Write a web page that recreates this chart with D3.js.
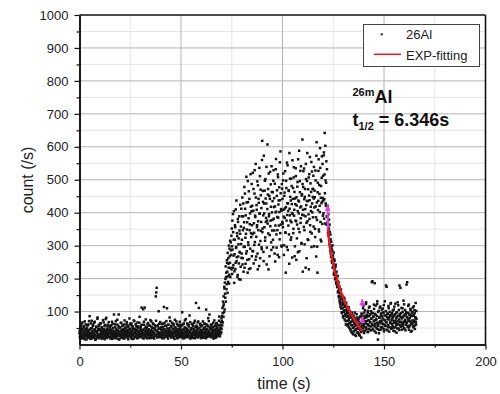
<!DOCTYPE html>
<html>
<head>
<meta charset="utf-8">
<script src="https://cdn.jsdelivr.net/npm/d3@7"></script>
<style>
  body { margin: 0; background: #fff; }
  svg { font-family: Arial, "Liberation Sans", sans-serif; }
</style>
</head>
<body>
<div id="chart"></div>
<script>
// counts are in 0.1 s bins; "even" arrays hold t = 0.0, 0.2, ... and "odd" arrays t = 0.1, 0.3, ...
const step = 0.2;

// t = 0 .. 69.9 s, background before beam
const countsBase = [
  34,22,51,18,40,63,27,45,31,19,56,38,24,70,29,47,33,15,58,42,26,36,61,21,44,
  86,30,17,49,35,72,25,41,57,20,33,66,28,46,14,39,54,23,37,78,31,48,19,60,27,
  43,26,65,35,18,52,29,40,74,22,47,31,16,59,36,25,81,42,20,55,33,28,68,45,24,
  38,57,21,44,30,69,17,50,34,27,91,40,23,62,36,19,48,31,75,26,43,55,29,15,39,
  52,24,37,66,20,45,32,58,27,41,18,73,35,49,22,30,61,38,25,54,16,43,34,79,28,
  47,33,20,64,39,26,55,30,17,48,71,36,23,42,58,29,45,19,67,34,51,25,38,84,31,
  22,56,40,112,27,44,35,107,18,60,32,49,24,76,37,21,53,41,28,65,33,46,19,57,36,
  26,43,70,30,50,21,39,62,34,18,47,28,55,146,158,172,41,24,59,37,101,31,48,22,68,
  35,52,27,44,19,63,38,29,114,46,23,57,33,41,71,25,49,36,18,60,30,45,82,28,39,
  54,21,37,66,31,47,24,58,40,17,75,35,50,27,43,62,29,38,20,56,33,48,69,26,42,
  31,59,23,98,36,45,28,64,19,52,39,30,77,25,47,34,61,22,41,55,27,88,37,18,50,
  44,26,63,33,20,57,38,48,29,72,35,24,126,41,53,30,67,22,46,111,36,27,60,40,19,
  55,32,43,25,70,38,21,49,34,62,28,45,106,37,23,58,31,80,42,26,91,35,52,29,47,
  24,61,39,30,53,18,44,73,33,27,56,40,22,65,36,48,29,59,34,85,42,26,51,67,38
];
const countsBaseOdd = [
  41,27,19,55,36,24,48,67,30,21,39,52,16,44,33,61,25,37,49,20,58,29,42,71,35,
  23,46,31,64,18,50,38,27,59,34,22,45,69,29,40,17,53,36,26,82,43,32,57,21,47,
  30,62,24,39,51,28,45,19,36,67,33,56,25,42,77,31,20,48,37,60,26,44,35,23,53,
  46,18,34,58,27,41,63,22,49,32,38,20,54,29,71,44,35,26,60,40,17,91,33,50,28,
  37,65,21,43,30,56,26,39,47,19,61,34,28,52,42,24,68,31,45,22,57,36,27,48,63,
  25,40,59,32,17,51,44,28,73,35,22,46,38,62,26,53,31,41,20,55,37,29,66,43,24,
  50,31,27,60,38,21,45,34,69,28,112,41,25,54,32,47,19,62,36,43,27,58,30,39,74,
  33,20,54,41,28,64,37,23,49,35,58,26,44,72,30,40,21,55,33,47,27,63,36,24,51,
  29,45,62,22,38,53,31,19,47,66,26,40,35,57,23,110,42,30,60,37,25,49,34,71,28,
  40,57,24,36,48,30,63,21,44,35,52,27,39,70,31,19,46,58,26,41,33,60,23,49,37,
  56,28,42,35,19,61,33,47,26,73,38,22,50,41,30,64,27,45,36,59,24,39,68,32,21,
  34,49,23,60,37,28,45,66,31,19,53,42,26,57,35,48,22,70,39,30,51,25,63,34,44,
  27,40,58,33,21,47,36,64,25,52,40,19,61,30,46,35,55,24,71,38,28,49,33,60,22,
  45,30,52,37,66,24,41,33,57,20,48,63,29,39,54,26,44,36,72,31,25,58,47,34,80
];
// t = 70 .. 74.9 s
const countsRise = [
  48,86,111,67,116,146,98,170,188,142,237,205,168,256,221,278,190,245,300,212,268,315,232,286,330
];
const countsRiseOdd = [
  72,58,95,130,84,122,175,106,154,199,130,218,183,248,157,207,262,233,185,291,248,205,310,272,228
];
// t = 75 .. 121.9 s
const countsHigh = [
  352,214,288,396,241,318,187,274,362,229,410,296,253,338,205,381,267,322,198,346,279,424,236,305,263,
  318,446,262,389,221,354,478,297,412,245,336,509,283,371,218,432,302,465,259,347,398,231,418,326,487,
  362,284,521,406,246,339,458,311,387,548,267,423,356,495,228,374,442,303,536,398,262,470,345,414,289,
  618,352,433,281,573,398,467,315,502,372,428,243,376,607,455,337,519,396,268,442,359,486,310,541,401,
  378,462,295,529,417,346,488,252,401,563,334,451,387,272,508,425,361,477,319,438,586,364,406,297,473,
  442,356,519,388,301,461,413,340,218,497,376,552,429,287,405,468,334,581,392,448,318,503,371,426,264,
  396,475,351,538,409,268,443,376,511,257,422,364,493,280,437,398,588,341,462,527,383,419,306,456,622,
  221,478,392,534,347,448,411,233,502,369,436,581,319,471,395,228,517,438,362,489,405,554,337,428,472,
  386,512,443,298,467,351,528,419,267,614,378,218,491,436,562,343,457,402,536,318,481,429,571,366,445,
  512,398,583,441,642,367,498,421,556,389
];
const countsHighOdd = [
  298,376,233,341,270,405,222,318,356,248,293,437,265,329,211,372,304,246,389,281,336,197,358,412,276,
  389,243,347,428,296,371,233,458,324,392,276,431,349,257,496,310,383,229,442,365,291,517,338,404,268,
  421,335,283,472,368,302,529,391,257,446,327,409,362,276,483,347,430,238,397,511,314,453,372,295,560,
  341,466,392,253,428,356,497,325,443,384,539,294,411,367,472,228,389,451,332,524,376,418,287,463,346,
  435,318,497,382,444,276,419,361,532,403,294,468,347,516,385,437,265,402,553,338,459,411,300,487,372,
  367,498,409,272,451,384,526,339,417,475,296,393,544,428,361,466,245,412,503,376,437,325,481,399,559,
  442,338,507,391,463,298,426,535,374,447,322,479,405,562,351,434,283,496,416,369,541,308,452,394,487,
  409,526,357,441,304,472,389,548,423,262,496,374,435,317,507,452,381,569,342,418,463,296,525,401,448,
  472,358,539,416,447,326,498,386,573,431,297,462,408,527,349,484,421,596,372,445,313,506,433,548,391,
  437,574,382,516,459,603,428,491,364,532
];
// t = 122 .. 138.9 s, decay
const countsDecay = [
  410,372,338,395,351,318,364,296,334,275,312,289,248,301,262,236,279,218,254,227,203,242,189,221,196,
  174,208,162,189,143,176,128,158,115,167,137,98,149,121,86,134,104,142,76,118,92,61,127,84,108,
  72,96,55,113,81,64,102,47,88,69,38,93,58,76,31,84,52,66,97,43,71,26,59,82,48,
  63,37,78,54,29,68,45,86,52,21
];
const countsDecayOdd = [
  388,421,356,330,379,305,342,283,319,266,297,254,285,233,270,245,212,258,229,198,236,213,184,205,176,
  192,158,181,147,169,135,155,122,146,109,139,95,128,112,82,123,99,137,88,114,71,104,93,58,99,
  86,62,105,74,51,91,66,43,82,59,97,35,71,50,88,40,63,79,29,57,74,46,92,36,61,
  48,73,33,59,82,27,51,66,38,94
];
// t = 139 .. 166 s
const countsTail = [
  58,92,41,76,118,63,35,87,104,52,71,128,46,83,61,97,38,74,112,56,89,67,43,101,79,
  189,62,95,48,84,121,73,186,55,91,36,78,66,123,47,15,59,102,44,81,69,115,53,94,72,
  86,49,109,63,97,40,75,131,58,88,179,68,45,93,77,54,117,82,39,99,65,85,126,51,74,
  95,57,83,42,106,71,90,52,124,66,79,36,98,61,87,119,48,76,179,93,58,84,69,111,45,
  81,99,64,133,50,88,72,105,43,92,67,84,189,57,96,76,121,53,89,70,108,39,86,62,97,
  73,112,55,90,68,104,47,83,126,61,78
];
const countsTailOdd = [
  67,84,49,110,73,56,97,42,81,64,123,52,89,71,38,102,60,86,47,115,69,92,55,78,44,
  96,192,58,85,70,108,41,93,62,118,75,50,87,131,57,99,66,34,83,112,71,45,90,64,106,
  52,79,97,61,120,46,88,73,56,101,67,175,84,43,94,59,110,76,52,89,68,124,48,91,63,
  77,103,51,86,66,115,40,92,72,58,97,83,49,128,70,61,105,44,87,68,172,54,95,79,63,
  110,57,85,69,122,48,91,75,60,98,182,66,82,53,117,72,45,93,80,58,104,67,88,41,99,
  64,87,52,116,73,95,58,81,69,102
];

// EXP-fitting curve
const fitTimes = [122.4, 123.2, 124.9, 127.3, 130.6, 133.1, 136.0, 139.3];
const fitCounts = [349, 303, 247, 187, 131, 101, 70, 40];

// fit range markers (magenta)
const markerTimes = [122.3, 139.3, 139.3];
const markerTop = [424, 137, 84];
const markerBottom = [349, 115, 64];

const xTicks = [0, 50, 100, 150, 200];
const xMinorTicks = [25, 75, 125, 175];
const yTicks = [100, 200, 300, 400, 500, 600, 700, 800, 900, 1000];
const yMinorTicks = [50, 150, 250, 350, 450, 550, 650, 750, 850, 950];

const countsEven = [].concat(countsBase, countsRise, countsHigh, countsDecay, countsTail);
const countsOdd = [].concat(countsBaseOdd, countsRiseOdd, countsHighOdd, countsDecayOdd, countsTailOdd);
const data = countsEven.map((c, i) => ({ t: i * step, c: c }))
  .concat(countsOdd.map((c, i) => ({ t: 0.1 + i * step, c: c })));

const width = 500, height = 394;
const margin = { top: 15, right: 14.5, bottom: 49.5, left: 79.5 };

const svg = d3.select('#chart')
  .append('svg')
  .attr('width', width)
  .attr('height', height);

const x = d3.scaleLinear().domain([0, 200]).range([margin.left, width - margin.right]);
const y = d3.scaleLinear().domain([0, 1000]).range([height - margin.bottom, margin.top]);

// grid
const grid = svg.append('g').attr('class', 'grid');
grid.selectAll('.gx-minor').data(xMinorTicks).enter().append('line')
  .attr('x1', d => x(d)).attr('x2', d => x(d))
  .attr('y1', y(0)).attr('y2', y(1000))
  .attr('stroke', '#e4e4e4').attr('stroke-width', 1);
grid.selectAll('.gy-minor').data(yMinorTicks).enter().append('line')
  .attr('x1', x(0)).attr('x2', x(200))
  .attr('y1', d => y(d)).attr('y2', d => y(d))
  .attr('stroke', '#e4e4e4').attr('stroke-width', 1);
grid.selectAll('.gx').data(xTicks.slice(1, -1)).enter().append('line')
  .attr('x1', d => x(d)).attr('x2', d => x(d))
  .attr('y1', y(0)).attr('y2', y(1000))
  .attr('stroke', '#b4b4b4').attr('stroke-width', 1);
grid.selectAll('.gy').data(yTicks.slice(0, -1)).enter().append('line')
  .attr('x1', x(0)).attr('x2', x(200))
  .attr('y1', d => y(d)).attr('y2', d => y(d))
  .attr('stroke', '#b4b4b4').attr('stroke-width', 1);

// data points
const ps = 2.5;
svg.append('g').attr('class', 'points')
  .selectAll('rect').data(data).enter().append('rect')
  .attr('x', d => x(d.t) - ps / 2)
  .attr('y', d => y(d.c) - ps / 2)
  .attr('width', ps).attr('height', ps)
  .attr('fill', '#141414');

// fit line
const line = d3.line()
  .curve(d3.curveMonotoneX)
  .x((d, i) => x(fitTimes[i]))
  .y(d => y(d));

svg.append('path')
  .datum(fitCounts)
  .attr('fill', 'none')
  .attr('stroke', '#ec1520')
  .attr('stroke-width', 2.4)
  .attr('d', line);

// range markers
const mk = svg.append('g').attr('class', 'markers').attr('fill', '#e83ce8');
markerTimes.forEach((t, i) => {
  const mx = x(t), y1 = y(markerTop[i]), y2 = y(markerBottom[i]);
  mk.append('rect').attr('x', mx - 1).attr('y', y1).attr('width', 2).attr('height', y2 - y1);
  mk.append('path').attr('d', `M${mx - 3},${y1 + 6} L${mx},${y1} L${mx + 3},${y1 + 6} Z`);
});

// axes
const axisColor = '#111';
svg.append('g')
  .attr('transform', `translate(0,${y(0)})`)
  .call(d3.axisBottom(x).tickValues(xTicks).tickSize(5).tickSizeOuter(0).tickPadding(7));
svg.append('g')
  .attr('transform', `translate(0,${y(0)})`)
  .call(d3.axisBottom(x).tickValues(xMinorTicks).tickSize(3).tickSizeOuter(0).tickFormat(''));
svg.append('g')
  .attr('transform', `translate(${x(0)},0)`)
  .call(d3.axisLeft(y).tickValues(yTicks).tickSize(5).tickSizeOuter(0).tickPadding(6).tickFormat(d3.format('d')));
svg.append('g')
  .attr('transform', `translate(${x(0)},0)`)
  .call(d3.axisLeft(y).tickValues(yMinorTicks).tickSize(3).tickSizeOuter(0).tickFormat(''));

svg.selectAll('.domain').attr('stroke', axisColor).attr('stroke-width', 1.6);
svg.selectAll('.tick line').attr('stroke', axisColor).attr('stroke-width', 1.2);
svg.selectAll('.tick text')
  .attr('font-size', 13)
  .attr('font-family', 'Arial, "Liberation Sans", sans-serif')
  .attr('fill', '#222');

// frame top / right
svg.append('line')
  .attr('x1', x(0)).attr('x2', x(200)).attr('y1', y(1000)).attr('y2', y(1000))
  .attr('stroke', axisColor).attr('stroke-width', 1.6);
svg.append('line')
  .attr('x1', x(200)).attr('x2', x(200)).attr('y1', y(1000)).attr('y2', y(0))
  .attr('stroke', axisColor).attr('stroke-width', 1.6);

// axis titles
svg.append('text')
  .attr('x', 284).attr('y', 389)
  .attr('text-anchor', 'middle')
  .attr('font-size', 16)
  .attr('fill', '#222')
  .text('time (s)');

svg.append('text')
  .attr('transform', 'translate(33,180) rotate(-90)')
  .attr('text-anchor', 'middle')
  .attr('font-size', 16)
  .attr('fill', '#222')
  .text('count (/s)');

// legend
const lg = svg.append('g').attr('class', 'legend');
lg.append('rect')
  .attr('x', 363.5).attr('y', 24.5).attr('width', 116).attr('height', 42)
  .attr('fill', '#fff').attr('stroke', '#444').attr('stroke-width', 1);
lg.append('rect')
  .attr('x', 381.7 - 1).attr('y', 34.3 - 1).attr('width', 2).attr('height', 2)
  .attr('fill', '#141414');
lg.append('text').attr('x', 406).attr('y', 39.3).attr('font-size', 13).attr('fill', '#222').text('26Al');
lg.append('line')
  .attr('x1', 374).attr('x2', 401).attr('y1', 54.3).attr('y2', 54.3)
  .attr('stroke', '#ec1520').attr('stroke-width', 1.5);
lg.append('text').attr('x', 406).attr('y', 60).attr('font-size', 13).attr('fill', '#222').text('EXP-fitting');

// annotation
const note = svg.append('g').attr('font-weight', 'bold').attr('fill', '#111');
const iso = note.append('text').attr('x', 352.5).attr('y', 103);
iso.append('tspan').attr('font-size', 11).attr('dy', -7).text('26m');
iso.append('tspan').attr('font-size', 18).attr('dy', 7).text('Al');

const half = note.append('text').attr('x', 352.5).attr('y', 126);
half.append('tspan').attr('font-size', 18).text('t');
half.append('tspan').attr('font-size', 11).attr('dy', 4).text('1/2');
half.append('tspan').attr('font-size', 18).attr('dy', -4).text(' = 6.346s');
</script>
</body>
</html>
